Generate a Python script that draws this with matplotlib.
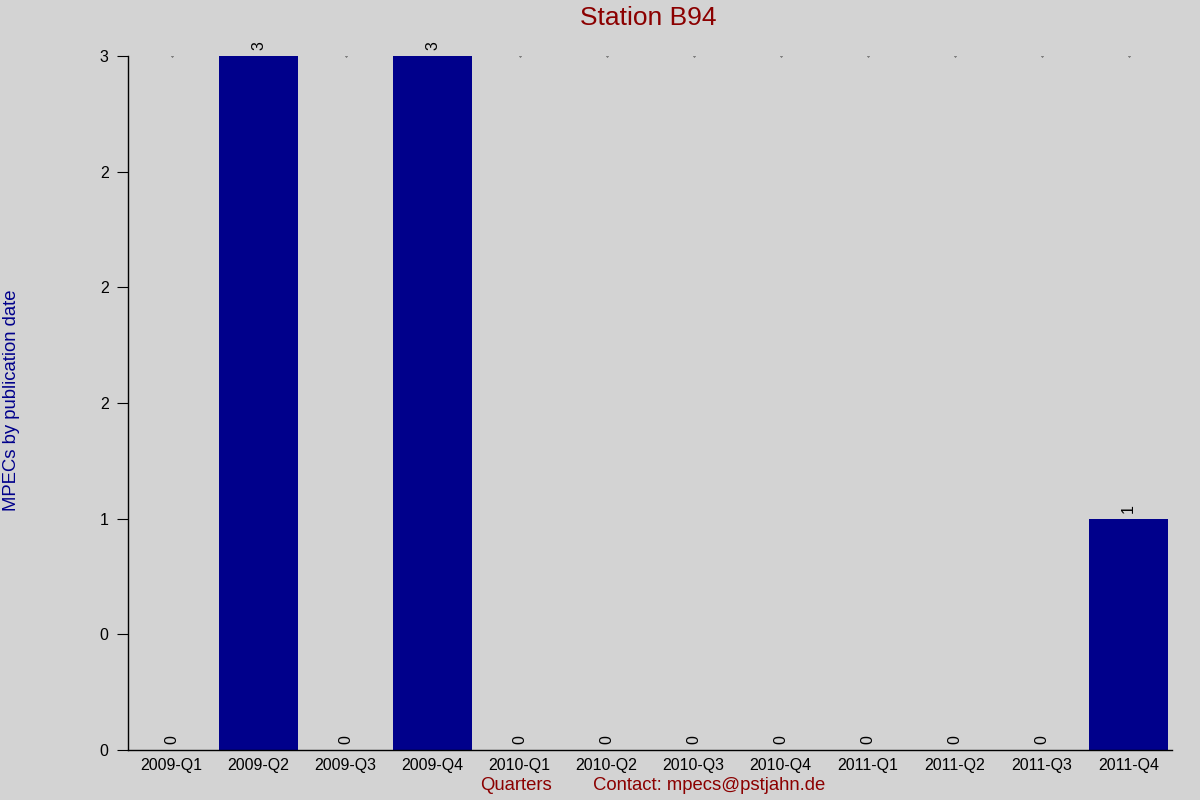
import numpy as np
import matplotlib
matplotlib.use('Agg')
import matplotlib.pyplot as plt

# Data
quarters = ['2009-Q1', '2009-Q2', '2009-Q3', '2009-Q4', '2010-Q1', '2010-Q2',
            '2010-Q3', '2010-Q4', '2011-Q1', '2011-Q2', '2011-Q3', '2011-Q4']
counts = [0, 3, 0, 3, 0, 0, 0, 0, 0, 0, 0, 1]
ytick_vals = [0, 0.5, 1, 1.5, 2, 2.5, 3]
ytick_labels = ['0', '0', '1', '2', '2', '2', '3']

plt.rcParams['font.family'] = ['Liberation Sans', 'DejaVu Sans']
bg = '#d3d3d3'

fig = plt.figure(figsize=(12, 8), dpi=100, facecolor=bg)
ax = fig.add_axes([128 / 1200, 50 / 800, 1044 / 1200, 694 / 800])
ax.set_facecolor(bg)

x = np.arange(len(quarters))
# tiny marks along the top of the plot
ax.plot(x, [max(ytick_vals)] * len(x), ls='none', marker='.', ms=0.6, color='black', zorder=1)
ax.bar(x, counts, width=0.9, color='#00008b', zorder=2)

for xi, c in zip(x, counts):
    ax.annotate(str(c), (xi, c), xytext=(0, 4), textcoords='offset points',
                rotation=90, ha='center', va='bottom', fontsize=11.5, color='black')

ax.set_xlim(-0.5, len(quarters) - 0.5)
ax.set_ylim(0, 3)
ax.set_xticks(x)
ax.set_xticklabels(quarters, fontsize=11.5)
ax.tick_params(axis='x', length=0, pad=6)
ax.set_yticks(ytick_vals)
ax.set_yticklabels(ytick_labels, fontsize=11.5)
ax.tick_params(axis='y', length=8, direction='out', pad=6)

for s in ['top', 'right']:
    ax.spines[s].set_visible(False)
for s in ['left', 'bottom']:
    ax.spines[s].set_linewidth(1)

fig.text(0.54, 0.977, 'Station B94', color='#8b0000', fontsize=19, ha='center', va='center')
fig.text(0.43, 0.0175, 'Quarters', color='#8b0000', fontsize=13.3, ha='center', va='center')
fig.text(0.591, 0.0175, 'Contact: mpecs@pstjahn.de', color='#8b0000', fontsize=13.3,
         ha='center', va='center')
fig.text(0.0095, 0.5, 'MPECs by publication date', color='#00008b', fontsize=13.3,
         rotation=90, ha='center', va='center')

plt.savefig('out.png', dpi=100, facecolor=bg)
plt.close()
